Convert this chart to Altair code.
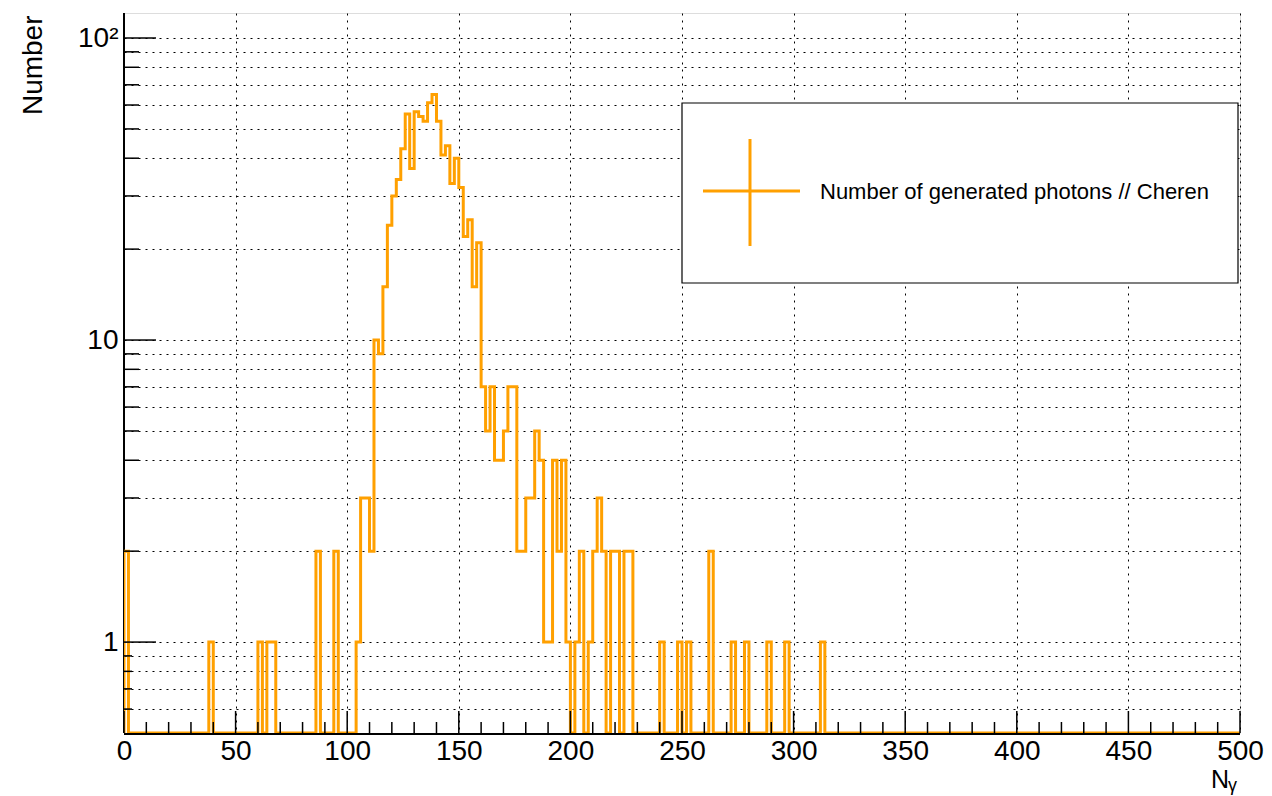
import altair as alt
import pandas as pd

# ---------------- data ----------------
bin_width = 2
x_domain = [0, 500]
y_domain = [0.5, 121]

# counts per 2-unit bin, starting at N = 0 (bins beyond the list are empty)
counts = [
    2, 0, 0, 0, 0, 0, 0, 0, 0, 0, 0, 0, 0, 0, 0, 0, 0, 0, 0, 1,
    0, 0, 0, 0, 0, 0, 0, 0, 0, 0, 1, 0, 1, 1, 0, 0, 0, 0, 0, 0,
    0, 0, 0, 2, 0, 0, 0, 2, 0, 0, 0, 0, 1, 3, 3, 2, 10, 9, 15, 24,
    30, 34, 43, 56, 37, 57, 55, 53, 61, 65, 53, 41, 44, 33, 40, 32, 22, 25, 15, 21,
    7, 5, 7, 4, 4, 5, 7, 7, 2, 2, 3, 3, 5, 4, 1, 1, 4, 2, 4, 1,
    0, 1, 2, 0, 1, 2, 3, 2, 0, 2, 2, 0, 2, 2, 0, 0, 0, 0, 0, 0,
    1, 0, 0, 0, 1, 0, 1, 0, 0, 0, 0, 2, 0, 0, 0, 0, 1, 0, 0, 1,
    0, 0, 0, 0, 1, 0, 0, 0, 1, 0, 0, 0, 0, 0, 0, 0, 1, 0, 0, 0,
]
n_bins = 250

x_major = [0, 50, 100, 150, 200, 250, 300, 350, 400, 450, 500]
x_minor = [v for v in range(0, 501, 10) if v % 50 != 0]
y_major = [1, 10, 100]
y_minor_low = [0.6, 0.7, 0.8, 0.9]
y_minor_high = [2, 3, 4, 5, 6, 7, 8, 9, 20, 30, 40, 50, 60, 70, 80, 90]
y_grid = y_minor_low + [1] + y_minor_high[:8] + [10] + y_minor_high[8:] + [100]

legend_label = "Number of generated photons // Cheren"
y_title = "Number"
x_title_main = "N"
x_title_sub = "γ"

LINE_COLOR = "#ffa000"
FONT = "Liberation Sans"

# ---------------- build step table ----------------
full = counts + [0] * (n_bins - len(counts))
rows = [{"x": 0, "y": y_domain[0]}]
for i, c in enumerate(full):
    rows.append({"x": i * bin_width, "y": max(c, y_domain[0])})
rows.append({"x": n_bins * bin_width, "y": max(full[-1], y_domain[0])})
hist = pd.DataFrame(rows)

xs = alt.Scale(domain=x_domain, nice=False, zero=False)
ys = alt.Scale(type="log", domain=y_domain, nice=False)

label_expr = ("datum.value == 100 ? '10²' : datum.value == 10 ? '10' : "
              "datum.value == 1 ? '1' : ''")

line = alt.Chart(hist).mark_line(
    interpolate="step-after", color=LINE_COLOR, strokeWidth=3, clip=True
).encode(
    x=alt.X("x:Q", scale=xs, axis=alt.Axis(
        values=x_major, grid=True, gridDash=[2, 5], gridColor="black",
        gridOpacity=1, gridWidth=1, ticks=False, domain=False,
        labelFont=FONT, labelFontSize=28, labelColor="black",
        labelPadding=4, labelFlush=False, title=None)),
    y=alt.Y("y:Q", scale=ys, axis=alt.Axis(
        values=y_grid, labelExpr=label_expr, grid=True, gridDash=[2, 5],
        gridColor="black", gridOpacity=1, gridWidth=1, ticks=False,
        domain=False, labelFont=FONT, labelFontSize=28, labelColor="black",
        labelPadding=6, title=y_title, titleFont=FONT, titleFontSize=28,
        titleFontWeight="normal", titleColor="black", titleAngle=-90,
        titleAlign="right", titleBaseline="middle", titleX=-91, titleY=2)),
)

def vticks(vals, length):
    df = pd.DataFrame({"x": vals})
    return alt.Chart(df).mark_rule(color="black", strokeWidth=1.5).encode(
        x=alt.X("x:Q", scale=xs), y=alt.value(720), y2=alt.value(720 - length))

def hticks(vals, length):
    df = pd.DataFrame({"y": vals})
    return alt.Chart(df).mark_rule(color="black", strokeWidth=1.5).encode(
        y=alt.Y("y:Q", scale=ys), x=alt.value(0), x2=alt.value(length))

one = pd.DataFrame({"k": [0]})
axis_lines = [
    alt.Chart(one).mark_rule(color="black", strokeWidth=2).encode(
        x=alt.value(0), x2=alt.value(0), y=alt.value(0), y2=alt.value(720)),
    alt.Chart(one).mark_rule(color="black", strokeWidth=2).encode(
        x=alt.value(0), x2=alt.value(1116), y=alt.value(721), y2=alt.value(721)),
]

legend_box = alt.Chart(one).mark_rect(
    fill="white", stroke="black", strokeWidth=1.2
).encode(x=alt.value(558), x2=alt.value(1114), y=alt.value(90), y2=alt.value(270))
legend_h = alt.Chart(one).mark_rule(color=LINE_COLOR, strokeWidth=3).encode(
    x=alt.value(579), x2=alt.value(676), y=alt.value(178), y2=alt.value(178))
legend_v = alt.Chart(one).mark_rule(color=LINE_COLOR, strokeWidth=3).encode(
    x=alt.value(626), x2=alt.value(626), y=alt.value(126), y2=alt.value(233))
legend_text = alt.Chart(one).mark_text(
    align="left", baseline="middle", font=FONT, fontSize=22, color="black"
).encode(x=alt.value(696), y=alt.value(179), text=alt.value(legend_label))

xt_n = alt.Chart(one).mark_text(
    align="left", baseline="alphabetic", font=FONT, fontSize=25, color="black"
).encode(x=alt.value(1087), y=alt.value(775), text=alt.value(x_title_main))
xt_g = alt.Chart(one).mark_text(
    align="left", baseline="alphabetic", font=FONT, fontSize=18, color="black"
).encode(x=alt.value(1104), y=alt.value(778), text=alt.value(x_title_sub))

chart = alt.layer(
    *axis_lines,
    line,
    vticks(x_major, 22), vticks(x_minor, 11),
    hticks(y_major, 32), hticks(y_minor_high, 15), hticks(y_minor_low, 8),
    legend_box, legend_h, legend_v, legend_text,
    xt_n, xt_g,
).properties(
    width=1116, height=720,
    autosize=alt.AutoSizeParams(type="none"),
    padding={"left": 116, "top": 5, "right": 24, "bottom": 64},
).configure_view(stroke="black", strokeWidth=1).configure(background="white")

chart.save("out.html", embed_options={"renderer": "svg", "actions": False})
